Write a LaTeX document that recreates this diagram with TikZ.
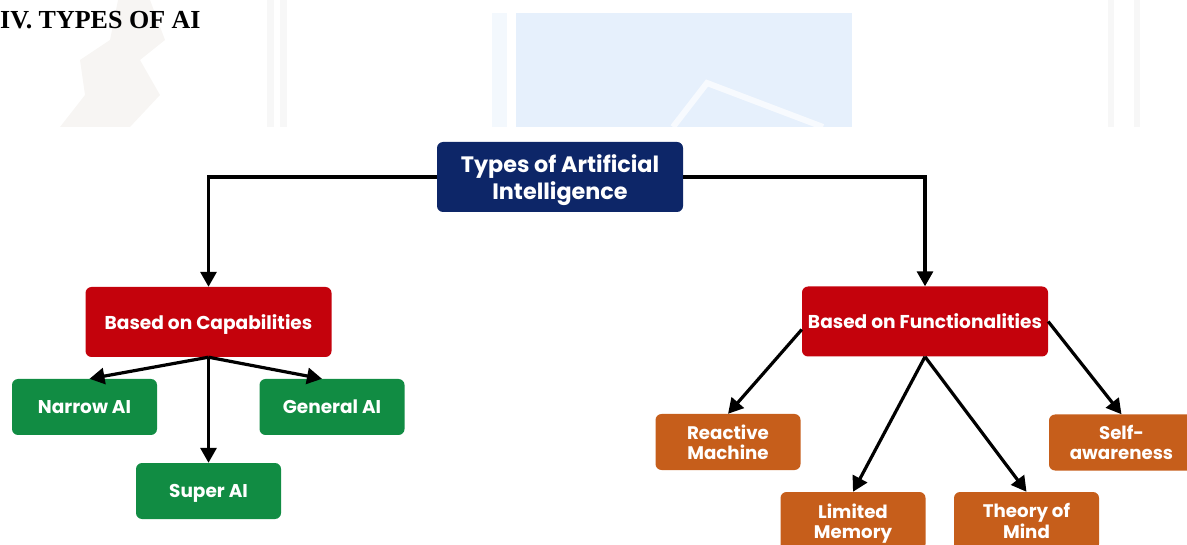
\documentclass[tikz,border=0pt]{standalone}
\usepackage{fontspec}
\setmainfont{Liberation Serif}
\newfontfamily\lab{Poppins}
\usetikzlibrary{arrows.meta}
\definecolor{navy}{HTML}{0D2668}
\definecolor{redbox}{HTML}{C4020C}
\definecolor{greenbox}{HTML}{118C43}
\definecolor{orangebox}{HTML}{C65E1B}
\definecolor{wmblue}{HTML}{E6F0FC}
\definecolor{wmgray}{HTML}{F7F5F3}
\begin{document}
\begin{tikzpicture}[x=1pt,y=-1pt,
  box/.style={rounded corners=6pt, text=white, align=center, inner sep=0pt, text depth=0pt},
  topbox/.style={box, fill=navy, minimum width=246pt, minimum height=70pt,
    font=\lab\bfseries\fontsize{22.3}{27}\selectfont},
  redb/.style={box, fill=redbox, minimum width=246pt, minimum height=70pt,
    font=\lab\bfseries\fontsize{18.6}{20}\selectfont},
  greenb/.style={box, fill=greenbox, minimum width=145pt, minimum height=56pt,
    font=\lab\bfseries\fontsize{18.5}{20}\selectfont},
  orangeb/.style={box, fill=orangebox, minimum width=145pt, minimum height=56pt,
    font=\lab\bfseries\fontsize{18.2}{20.5}\selectfont},
  link/.style={line width=3.2pt, draw=black, -{Triangle[length=15pt,width=16pt]}}]
\useasboundingbox (0,0) rectangle (1187,545);
% faint watermark background
\fill[wmblue] (516,13) rectangle (852,127);
\fill[wmblue!50] (492,13) rectangle (507,127);
\draw[white, line width=6pt, opacity=0.7] (673,127) -- (707,83) -- (823,127);
\fill[black!3] (267,0) rectangle (274,127);
\fill[black!3] (280,0) rectangle (287,127);
\fill[black!3] (1108,0) rectangle (1114,127);
\fill[black!3] (1134,0) rectangle (1140,127);
\fill[wmgray] (118,0) -- (150,0) -- (165,40) -- (140,60) -- (160,95) -- (130,127) -- (60,127) -- (85,95) -- (80,60) -- (110,40) -- cycle;
% title
\node[anchor=base west, inner sep=0pt, font=\bfseries\fontsize{26}{30}\selectfont] (title) at (0,28.5) {IV. TYPES OF AI};
% nodes
\node[topbox] (top) at (560,177) {Types of Artificial\\Intelligence};
\node[redb] (cap) at (208.5,322) {Based on Capabilities};
\node[redb] (func) at (925,321.5) {Based on Functionalities};
\node[greenb] (narrow) at (84.5,407) {Narrow AI};
\node[greenb] (general) at (332,407) {General AI};
\node[greenb] (super) at (208.5,491) {Super AI};
\node[orangeb] (reactive) at (728,442) {Reactive\\Machine};
\node[orangeb] (self) at (1121.5,442.5) {Self-\\awareness};
\node[orangeb, minimum height=58pt] (limited) at (853,521) {Limited\\Memory};
\node[orangeb, minimum height=58pt] (theory) at (1026.5,521) {Theory of\\Mind};
% connectors
\draw[link] (top.west) -| (cap.north);
\draw[link] (top.east) -| (func.north);
\draw[link] (cap.south) -- ([xshift=5pt]narrow.north);
\draw[link] (cap.south) -- ([xshift=-10pt]general.north);
\draw[link] (cap.south) -- (super.north);
\draw[link] ([yshift=-8pt]func.west) -- (reactive.north);
\draw[link] (func.east) -- (self.north);
\draw[link] (func.south) -- (limited.north);
\draw[link] (func.south) -- (theory.north);
\end{tikzpicture}
\end{document}
